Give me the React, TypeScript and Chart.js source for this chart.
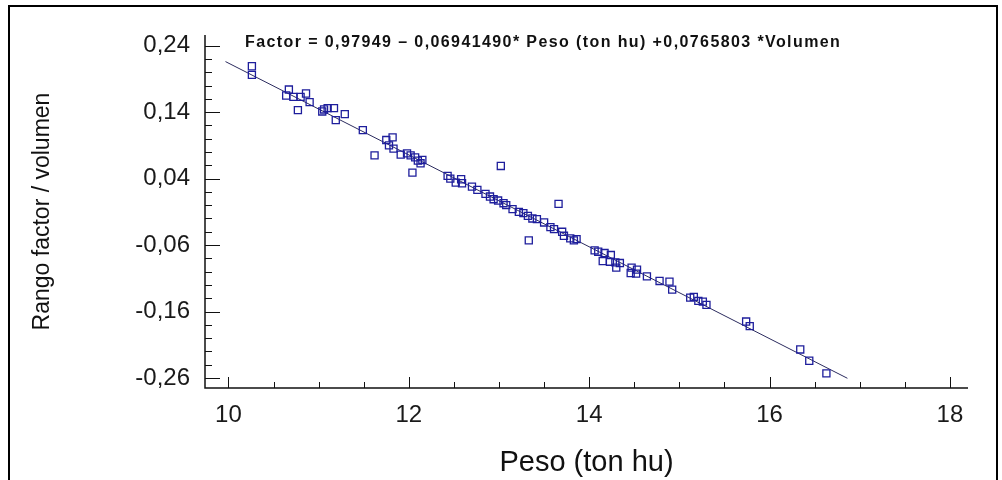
import React, { useEffect, useRef } from 'react';
import { Chart, registerables } from 'chart.js';

Chart.register(...registerables);

const pesoValues = [
  10.26, 10.26, 10.67, 10.64, 10.72, 10.8, 10.86, 10.9, 10.77, 11.04,
  11.06, 11.1, 11.17, 11.29, 11.19, 11.49, 11.75, 11.82, 11.78, 11.83,
  11.62, 11.91, 11.98, 12.02, 12.07, 12.1, 12.15, 12.13, 12.04, 12.43,
  12.46, 12.58, 12.52, 12.59, 12.7, 12.76, 13.02, 12.85, 12.9, 12.94,
  12.99, 13.05, 13.08, 13.15, 13.22, 13.27, 13.32, 13.37, 13.42, 13.5,
  13.57, 13.61, 13.66, 13.7, 13.72, 13.79, 13.86, 13.83, 13.33, 14.06,
  14.1, 14.17, 14.24, 14.15, 14.23, 14.29, 14.34, 14.3, 14.47, 14.53,
  14.46, 14.52, 14.64, 14.78, 14.89, 14.92, 15.12, 15.16, 15.21, 15.26,
  15.3, 15.74, 15.78, 16.34, 16.44, 16.63,
];

const rangoValues = [
  0.209, 0.196, 0.174, 0.165, 0.163, 0.163, 0.168, 0.155, 0.143, 0.141,
  0.144, 0.146, 0.146, 0.137, 0.128, 0.113, 0.098, 0.102, 0.09, 0.085,
  0.075, 0.076, 0.078, 0.075, 0.072, 0.067, 0.068, 0.063, 0.049, 0.044,
  0.04, 0.039, 0.034, 0.033, 0.028, 0.023, 0.059, 0.017, 0.013, 0.009,
  0.007, 0.003, 0.0, -0.006, -0.01, -0.012, -0.016, -0.02, -0.021, -0.026,
  -0.033, -0.036, 0.002, -0.04, -0.046, -0.05, -0.051, -0.053, -0.053, -0.068,
  -0.07, -0.072, -0.075, -0.084, -0.085, -0.086, -0.087, -0.094, -0.094, -0.097,
  -0.102, -0.103, -0.107, -0.114, -0.115, -0.127, -0.139, -0.138, -0.144, -0.145,
  -0.15, -0.175, -0.182, -0.217, -0.234, -0.253,
];

const fitPeso = [9.967, 16.863];
const fitRango = [0.216, -0.2604];

const xTickValues = [10, 12, 14, 16, 18];
const yTickValues = [0.24, 0.14, 0.04, -0.06, -0.16, -0.26];

const equationText = 'Factor = 0,97949 – 0,06941490* Peso (ton hu) +0,0765803 *Volumen';
const xTitle = 'Peso (ton hu)';
const yTitle = 'Rango factor / volumen';

const FONT = '"Liberation Sans", Arial, sans-serif';

const framePlugin = {
  id: 'framePlugin',
  afterDraw(chart: any) {
    const { ctx, chartArea: a, scales } = chart;
    const x = scales.x;
    const y = scales.y;
    ctx.save();
    ctx.strokeStyle = '#111';
    ctx.lineWidth = 1.5;
    ctx.beginPath();
    ctx.moveTo(a.left, a.top);
    ctx.lineTo(a.left, a.bottom);
    ctx.lineTo(a.right, a.bottom);
    ctx.stroke();

    ctx.lineWidth = 1;
    ctx.beginPath();
    for (let k = 0; k <= 26; k++) {
      const v = -0.26 + k * 0.02;
      if (v > y.max + 1e-9 || v < y.min - 1e-9) continue;
      const py = Math.round(y.getPixelForValue(v)) + 0.5;
      const len = k % 5 === 0 ? 15 : 7;
      ctx.moveTo(a.left, py);
      ctx.lineTo(a.left + len, py);
    }
    for (let k = 0; k <= 16; k++) {
      const v = 10 + k * 0.5;
      if (v > x.max) continue;
      const px = Math.round(x.getPixelForValue(v)) + 0.5;
      const len = k % 4 === 0 ? 11 : 6;
      ctx.moveTo(px, a.bottom);
      ctx.lineTo(px, a.bottom - len);
    }
    ctx.stroke();

    ctx.lineWidth = 2;
    ctx.strokeStyle = '#000';
    ctx.strokeRect(9, 6, 988, 520);

    ctx.font = 'bold 16px ' + FONT;
    ctx.fillStyle = '#111';
    ctx.textBaseline = 'middle';
    ctx.textAlign = 'left';
    (ctx as any).letterSpacing = '1.4px';
    ctx.fillText(equationText, 245, 43);
    ctx.restore();
  },
};

export default function App() {
  const ref = useRef<HTMLCanvasElement | null>(null);

  useEffect(() => {
    document.body.style.margin = '0';
    const canvas = ref.current;
    if (!canvas) return;
    const chart = new Chart(canvas, {
      type: 'scatter',
      data: {
        datasets: [
          {
            label: 'fit',
            data: fitPeso.map((p, i) => ({ x: p, y: fitRango[i] })),
            showLine: true,
            borderColor: '#2b2b5e',
            borderWidth: 1,
            pointRadius: 0,
            order: 2,
          },
          {
            label: 'obs',
            data: pesoValues.map((p, i) => ({ x: p, y: rangoValues[i] })),
            pointStyle: 'rect',
            pointRadius: 5,
            pointBorderWidth: 1.3,
            pointBorderColor: '#1e1e9c',
            pointBackgroundColor: 'rgba(0,0,0,0)',
            order: 1,
          } as any,
        ],
      },
      options: {
        responsive: false,
        animation: false,
        layout: { padding: { left: 9, top: 35, right: 34, bottom: 0 } },
        plugins: { legend: { display: false }, tooltip: { enabled: false }, title: { display: false } },
        scales: {
          x: {
            type: 'linear',
            min: 9.74,
            max: 18.2,
            grid: { display: false, drawTicks: false },
            border: { display: false },
            afterBuildTicks: (s: any) => {
              s.ticks = xTickValues.map((v) => ({ value: v }));
            },
            afterFit: (s: any) => {
              s.height = 92;
            },
            ticks: {
              autoSkip: false,
              maxRotation: 0,
              padding: 13,
              color: '#1a1a1a',
              font: { family: FONT, size: 24 },
              callback: (v: any) => String(v),
            },
            title: {
              display: true,
              text: xTitle,
              color: '#111',
              font: { family: FONT, size: 29 },
              padding: { top: 0, bottom: 0 },
            },
          },
          y: {
            type: 'linear',
            min: -0.275,
            max: 0.256,
            grid: { display: false, drawTicks: false },
            border: { display: false },
            afterBuildTicks: (s: any) => {
              s.ticks = yTickValues.map((v) => ({ value: v }));
            },
            afterFit: (s: any) => {
              s.width = 196;
            },
            ticks: {
              autoSkip: false,
              padding: 15,
              color: '#1a1a1a',
              font: { family: FONT, size: 24 },
              callback: (v: any) => Number(v).toFixed(2).replace('.', ','),
            },
            title: {
              display: true,
              text: yTitle,
              color: '#111',
              font: { family: FONT, size: 23 },
              padding: { top: 20, bottom: 0 },
            },
          },
        },
      },
      plugins: [framePlugin],
    } as any);
    return () => chart.destroy();
  }, []);

  return (
    <div style={{ width: 1002, height: 480, position: 'relative' }}>
      <canvas ref={ref} width={1002} height={480} />
    </div>
  );
}
